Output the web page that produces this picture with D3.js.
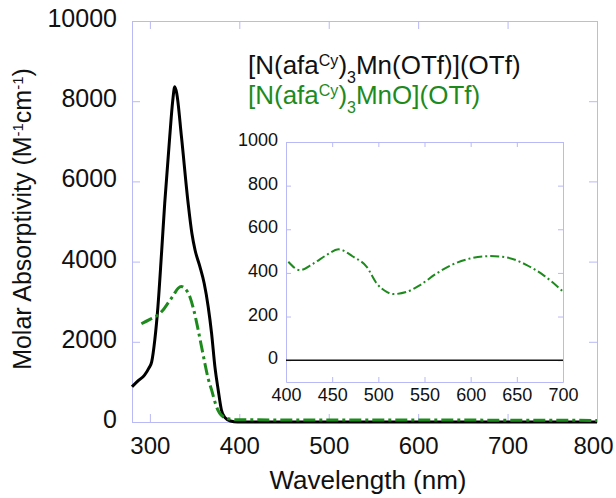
<!DOCTYPE html>
<html>
<head>
<meta charset="utf-8">
<script src="https://cdn.jsdelivr.net/npm/d3@7"></script>
<style>
  body { margin: 0; background: #fff; }
  svg text { font-family: "Liberation Sans", Arial, sans-serif; }
</style>
</head>
<body>
<div id="container"></div>
<script>
// [wavelength (nm), molar absorptivity]
var mnOtf = [[280, 880], [287, 1030], [294, 1170], [299, 1350], [302, 1500], [305.5, 2050],
  [309, 2880], [313, 4200], [316.6, 5460], [322.2, 7115], [325.5, 8000], [327.8, 8360],
  [330, 8200], [335.3, 7115], [342.8, 5450], [347, 4700], [350.5, 4290], [356, 3870],
  [360.7, 3460], [365.2, 2875], [369, 2210], [372.7, 1380], [376.4, 800], [380, 300],
  [384, 110], [390, 25], [398, 0], [500, 0], [600, 0], [700, 0], [800, 0]];

var mnO = [[290.5, 2450], [300, 2560], [309, 2670], [315, 2800], [320, 2960], [326, 3150],
  [331.6, 3335], [335, 3380], [339, 3330], [344.7, 3125], [349, 2800], [354, 2295],
  [358, 1850], [361.5, 1460], [365, 1100], [369, 800], [374.5, 380], [378, 220],
  [382, 130], [388, 80], [398, 55], [500, 50], [600, 50], [700, 45], [800, 40]];

var insetMnO = [[402.5, 451], [415, 413], [429.6, 443], [444, 482], [456.7, 508], [472.9, 474],
  [487.4, 428], [498.2, 352], [509, 313], [516.2, 303], [530.7, 313], [545.1, 344],
  [563.2, 398], [581.2, 440], [599.3, 466], [621, 477], [639, 471], [660.7, 436],
  [678.7, 390], [700.4, 313]];

var insetMnOtf = [[400, 0], [550, 0], [700, 0]];

var xTicks = [300, 400, 500, 600, 700, 800];
var yTicks = [0, 2000, 4000, 6000, 8000, 10000];
var insetXTicks = [400, 450, 500, 550, 600, 650, 700];
var insetYTicks = [0, 200, 400, 600, 800, 1000];

var axisColor = "#b9b9f5";
var green = "#1e8a1e";
var fmt = d3.format("d");

var svg = d3.select("#container")
  .append("svg")
  .attr("width", 616)
  .attr("height", 498);

// main plot
var x = d3.scaleLinear().domain([280, 800]).range([132, 597]);
var y = d3.scaleLinear().domain([0, 10000]).range([422, 21]);

function styleAxis(g, size) {
  g.select(".domain").attr("stroke", axisColor);
  g.selectAll(".tick line").attr("stroke", axisColor);
  g.selectAll(".tick text").attr("fill", "#111").style("font-size", size + "px");
}

var xAxisG = svg.append("g")
  .attr("transform", "translate(0,422)")
  .call(d3.axisBottom(x).tickValues(xTicks).tickFormat(fmt).tickSize(-8).tickSizeOuter(0).tickPadding(15))
  .call(styleAxis, 24);
// keep the last label inside the page
xAxisG.selectAll(".tick text").filter(function (d) { return d === 800; }).attr("x", -4);
svg.append("g")
  .attr("transform", "translate(0,21)")
  .call(d3.axisTop(x).tickValues(xTicks).tickSize(-8).tickSizeOuter(0).tickFormat(""))
  .call(styleAxis, 24);
var yAxisG = svg.append("g")
  .attr("transform", "translate(132,0)")
  .call(d3.axisLeft(y).tickValues(yTicks).tickFormat(fmt).tickSize(-8).tickSizeOuter(0).tickPadding(15))
  .call(styleAxis, 25);
yAxisG.selectAll(".tick text").attr("dy", "0.22em");
svg.append("g")
  .attr("transform", "translate(597,0)")
  .call(d3.axisRight(y).tickValues(yTicks).tickSize(-8).tickSizeOuter(0).tickFormat(""))
  .call(styleAxis, 25);

var line = d3.line()
  .x(function (d) { return x(d[0]); })
  .y(function (d) { return y(d[1]); })
  .curve(d3.curveMonotoneX);

svg.append("path")
  .attr("d", line(mnOtf))
  .attr("fill", "none")
  .attr("stroke", "#000")
  .attr("stroke-width", 3);

svg.append("path")
  .attr("d", line(mnO))
  .attr("fill", "none")
  .attr("stroke", green)
  .attr("stroke-width", 3)
  .attr("stroke-dasharray", "12,4,3,4");

// axis titles
svg.append("text")
  .attr("x", 368)
  .attr("y", 489)
  .attr("text-anchor", "middle")
  .style("font-size", "26px")
  .attr("fill", "#111")
  .text("Wavelength (nm)");

var yTitle = svg.append("text")
  .attr("transform", "translate(31,219) rotate(-90)")
  .attr("text-anchor", "middle")
  .style("font-size", "25px")
  .attr("fill", "#111");
yTitle.append("tspan").text("Molar Absorptivity (M");
yTitle.append("tspan").attr("baseline-shift", "super").style("font-size", "15px").text("-1");
yTitle.append("tspan").text("cm");
yTitle.append("tspan").attr("baseline-shift", "super").style("font-size", "15px").text("-1");
yTitle.append("tspan").text(")");

// legend
function legendLine(yPos, color, tail) {
  var t = svg.append("text")
    .attr("x", 248)
    .attr("y", yPos)
    .attr("fill", color)
    .style("font-size", "26px");
  t.append("tspan").text("[N(afa");
  t.append("tspan").attr("baseline-shift", "super").style("font-size", "16px").text("Cy");
  t.append("tspan").text(")");
  t.append("tspan").attr("baseline-shift", "sub").style("font-size", "16px").text("3");
  t.append("tspan").text(tail);
}
legendLine(74, "#111", "Mn(OTf)](OTf)");
legendLine(104, green, "MnO](OTf)");

// inset
var ix = d3.scaleLinear().domain([400, 700]).range([286, 563]);
var iy = d3.scaleLinear().domain([-100, 1000]).range([382, 142]);

svg.append("rect")
  .attr("x", 286).attr("y", 142)
  .attr("width", 277).attr("height", 240)
  .attr("fill", "#fff");

svg.append("g")
  .attr("transform", "translate(0,382)")
  .call(d3.axisBottom(ix).tickValues(insetXTicks).tickFormat(fmt).tickSize(-5).tickSizeOuter(0).tickPadding(6))
  .call(styleAxis, 18);
svg.append("g")
  .attr("transform", "translate(0,142)")
  .call(d3.axisTop(ix).tickValues(insetXTicks).tickSize(-5).tickSizeOuter(0).tickFormat(""))
  .call(styleAxis, 18);
var iyAxisG = svg.append("g")
  .attr("transform", "translate(286,0)")
  .call(d3.axisLeft(iy).tickValues(insetYTicks).tickFormat(fmt).tickSize(-5).tickSizeOuter(0).tickPadding(8))
  .call(styleAxis, 18);
iyAxisG.selectAll(".tick text").attr("dy", "0.2em");
svg.append("g")
  .attr("transform", "translate(563,0)")
  .call(d3.axisRight(iy).tickValues(insetYTicks).tickSize(-5).tickSizeOuter(0).tickFormat(""))
  .call(styleAxis, 18);

var iline = d3.line()
  .x(function (d) { return ix(d[0]); })
  .y(function (d) { return iy(d[1]); })
  .curve(d3.curveMonotoneX);

svg.append("path")
  .attr("d", iline(insetMnOtf))
  .attr("fill", "none")
  .attr("stroke", "#111")
  .attr("stroke-width", 1.5);

svg.append("path")
  .attr("d", iline(insetMnO))
  .attr("fill", "none")
  .attr("stroke", green)
  .attr("stroke-width", 2)
  .attr("stroke-dasharray", "9,3,2,3");
</script>
</body>
</html>
